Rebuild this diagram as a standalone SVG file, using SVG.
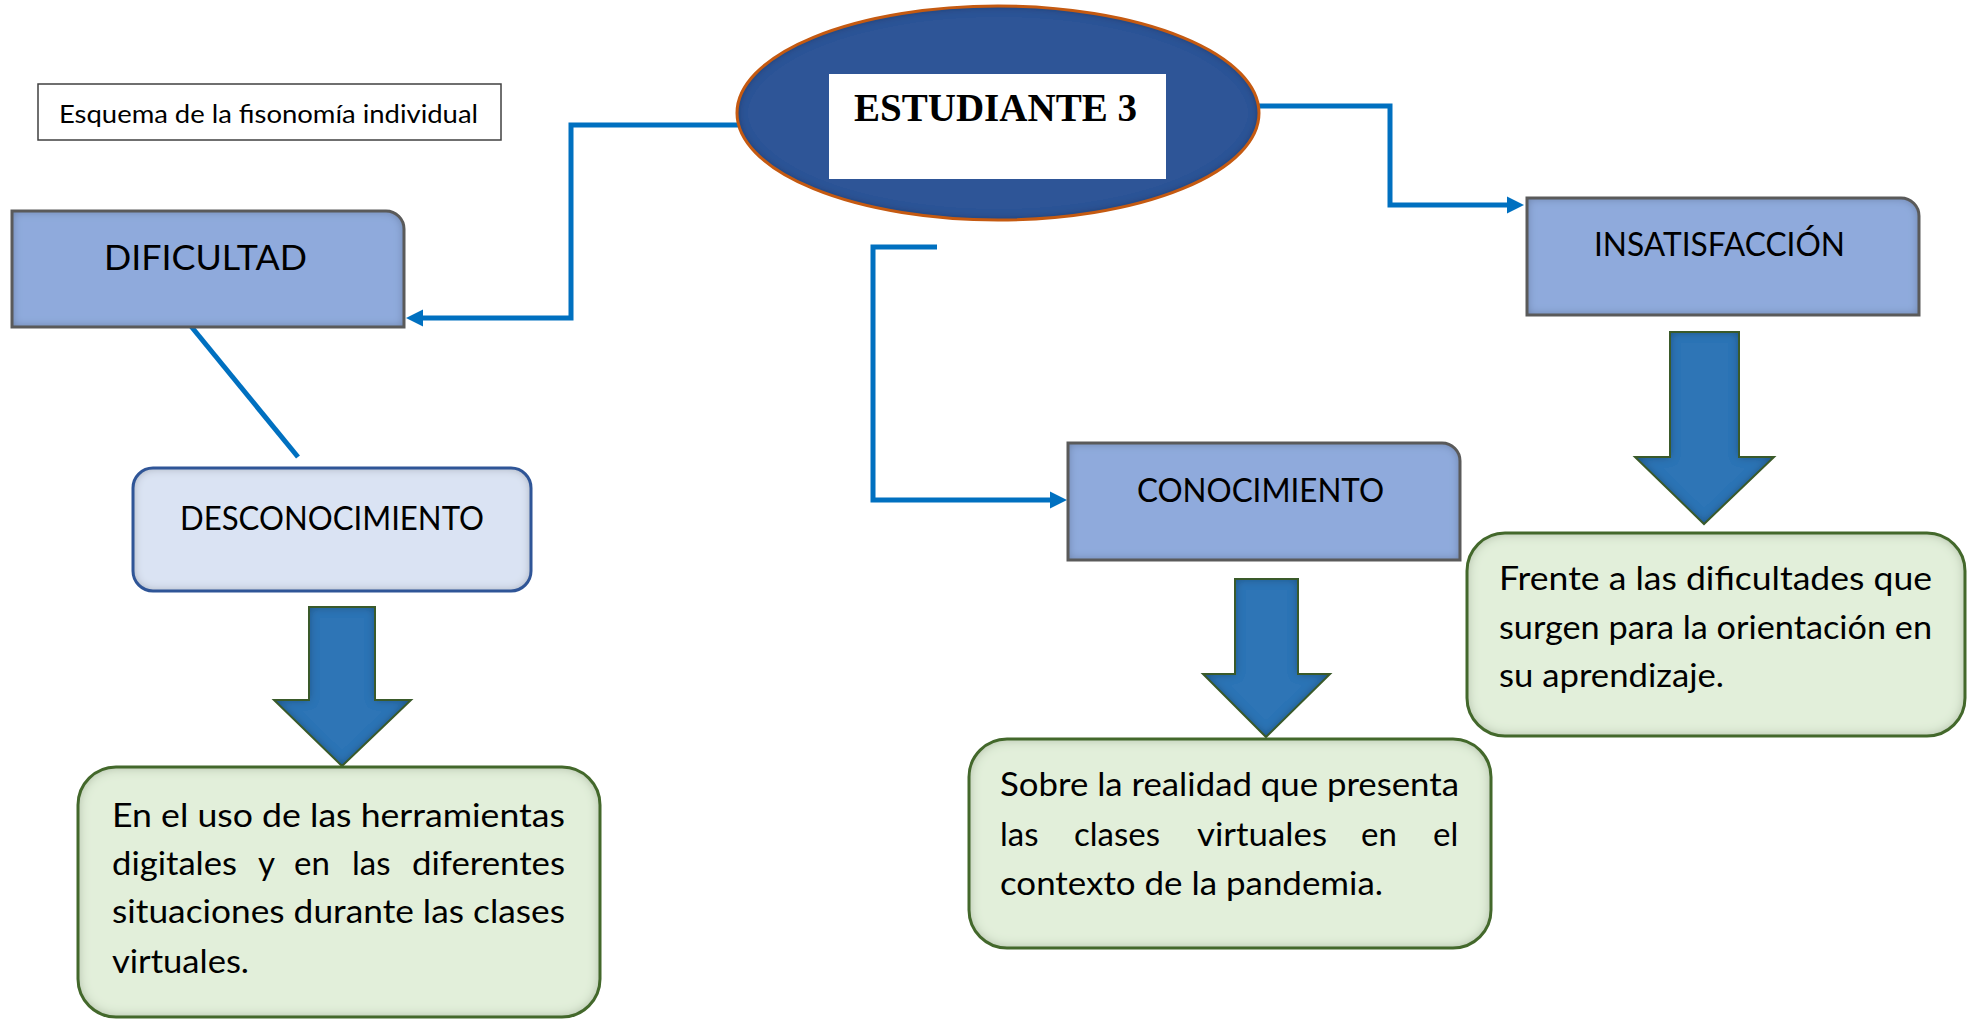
<svg xmlns="http://www.w3.org/2000/svg" width="1975" height="1020" viewBox="0 0 1975 1020">
<defs>
<style>
.t{font-family:Lato,"Open Sans","Liberation Sans",sans-serif;fill:#000}
.conn{fill:none;stroke:#0070C0;stroke-width:5;stroke-linejoin:miter}
.blue{fill:#8FAADC}
.blueS{fill:none;stroke:#5A5A5A;stroke-width:3}
.green{fill:#E2EFDA}
.greenS{fill:none;stroke:#43682B;stroke-width:3}
.barrow{fill:#2E75B6}
.barrowS{fill:none;stroke:#3A5A2A;stroke-width:2}
</style>
<filter id="inner" x="-5%" y="-5%" width="110%" height="110%">
<feFlood flood-color="#000" flood-opacity="0.6" result="f"/>
<feComposite in="f" in2="SourceAlpha" operator="out" result="o"/>
<feGaussianBlur in="o" stdDeviation="5" result="b"/>
<feComposite in="b" in2="SourceAlpha" operator="in" result="s"/>
<feMerge><feMergeNode in="SourceGraphic"/><feMergeNode in="s"/></feMerge>
</filter>
<filter id="innerG" x="-5%" y="-5%" width="110%" height="110%">
<feFlood flood-color="#3E5A22" flood-opacity="0.6" result="f"/>
<feComposite in="f" in2="SourceAlpha" operator="out" result="o"/>
<feGaussianBlur in="o" stdDeviation="6" result="b"/>
<feComposite in="b" in2="SourceAlpha" operator="in" result="s"/>
<feMerge><feMergeNode in="SourceGraphic"/><feMergeNode in="s"/></feMerge>
</filter>
<marker id="ah" markerUnits="userSpaceOnUse" markerWidth="18" markerHeight="18" refX="1" refY="9" orient="auto">
<path d="M0,0.5 L17,9 L0,17.5 Z" fill="#0070C0"/>
</marker>
</defs>
<rect width="1975" height="1020" fill="#fff"/>

<g id="connectors">
<polyline class="conn" points="738,125 571,125 571,318 422,318" marker-end="url(#ah)"/>
<polyline class="conn" points="1258,106 1390,106 1390,205 1508,205" marker-end="url(#ah)"/>
<polyline class="conn" points="937,247 873,247 873,500 1051,500" marker-end="url(#ah)"/>
<line class="conn" x1="190" y1="325" x2="298" y2="457"/>
</g>

<g id="title">
<rect x="38" y="84" width="463" height="56" fill="#fff" stroke="#404040" stroke-width="1.5"/>
<text class="t" x="59" y="123" font-size="25" textLength="419" lengthAdjust="spacingAndGlyphs">Esquema de la fisonomía individual</text>
</g>

<g id="estudiante">
<ellipse cx="998" cy="113" rx="261" ry="107" fill="#2F5597" filter="url(#inner)"/>
<ellipse cx="998" cy="113" rx="261" ry="107" fill="none" stroke="#C55A11" stroke-width="3"/>
<rect x="829" y="74" width="337" height="105" fill="#fff"/>
<text x="854" y="121" font-family="'Liberation Serif','DejaVu Serif',serif" font-weight="bold" font-size="40" textLength="283" lengthAdjust="spacingAndGlyphs">ESTUDIANTE 3</text>
</g>

<g id="dificultad">
<path class="blue" filter="url(#inner)" d="M12,211 H386 A18,18 0 0 1 404,229 V327 H12 Z"/>
<path class="blueS" d="M12,211 H386 A18,18 0 0 1 404,229 V327 H12 Z"/>
<text class="t" x="104" y="270" font-size="35" textLength="203" lengthAdjust="spacingAndGlyphs">DIFICULTAD</text>
</g>

<g id="insatisfaccion">
<path class="blue" filter="url(#inner)" d="M1527,198 H1901 A18,18 0 0 1 1919,216 V315 H1527 Z"/>
<path class="blueS" d="M1527,198 H1901 A18,18 0 0 1 1919,216 V315 H1527 Z"/>
<text class="t" x="1594" y="256" font-size="33" textLength="251" lengthAdjust="spacingAndGlyphs">INSATISFACCIÓN</text>
</g>

<g id="conocimiento">
<path class="blue" filter="url(#inner)" d="M1068,443 H1442 A18,18 0 0 1 1460,461 V560 H1068 Z"/>
<path class="blueS" d="M1068,443 H1442 A18,18 0 0 1 1460,461 V560 H1068 Z"/>
<text class="t" x="1137" y="502" font-size="32" textLength="247" lengthAdjust="spacingAndGlyphs">CONOCIMIENTO</text>
</g>

<g id="desconocimiento">
<rect x="133" y="468" width="398" height="123" rx="20" fill="#DAE3F3" filter="url(#inner)"/>
<rect x="133" y="468" width="398" height="123" rx="20" fill="none" stroke="#2F5597" stroke-width="3"/>
<text class="t" x="180" y="530" font-size="32" textLength="304" lengthAdjust="spacingAndGlyphs">DESCONOCIMIENTO</text>
</g>

<g id="arrow1">
<polygon class="barrow" filter="url(#inner)" points="309,607 375,607 375,700 411,700 342,766 274,700 309,700"/>
<polygon class="barrowS" points="309,607 375,607 375,700 411,700 342,766 274,700 309,700"/>
</g>
<g id="arrow2">
<polygon class="barrow" filter="url(#inner)" points="1235,579 1298,579 1298,674 1330,674 1266,737 1203,674 1235,674"/>
<polygon class="barrowS" points="1235,579 1298,579 1298,674 1330,674 1266,737 1203,674 1235,674"/>
</g>
<g id="arrow3">
<polygon class="barrow" filter="url(#inner)" points="1670,332 1739,332 1739,457 1774,457 1704,524 1635,457 1670,457"/>
<polygon class="barrowS" points="1670,332 1739,332 1739,457 1774,457 1704,524 1635,457 1670,457"/>
</g>

<g id="texto1">
<rect x="78" y="767" width="522" height="250" rx="38" class="green" filter="url(#innerG)"/>
<rect x="78" y="767" width="522" height="250" rx="38" class="greenS"/>
<text class="t" font-size="33">
<tspan x="112" y="827" textLength="453" lengthAdjust="spacingAndGlyphs">En el uso de las herramientas</tspan>
<tspan x="112" y="875" textLength="125" lengthAdjust="spacingAndGlyphs">digitales</tspan><tspan x="258" y="875">y</tspan><tspan x="294" y="875">en</tspan><tspan x="352" y="875">las</tspan><tspan x="412" y="875" textLength="153" lengthAdjust="spacingAndGlyphs">diferentes</tspan>
<tspan x="112" y="923" textLength="453" lengthAdjust="spacingAndGlyphs">situaciones durante las clases</tspan>
<tspan x="112" y="973" textLength="137" lengthAdjust="spacingAndGlyphs">virtuales.</tspan>
</text>
</g>

<g id="texto2">
<rect x="969" y="739" width="522" height="209" rx="38" class="green" filter="url(#innerG)"/>
<rect x="969" y="739" width="522" height="209" rx="38" class="greenS"/>
<text class="t" font-size="33">
<tspan x="1000" y="796" textLength="459" lengthAdjust="spacingAndGlyphs">Sobre la realidad que presenta</tspan>
<tspan x="1000" y="846">las</tspan><tspan x="1074" y="846">clases</tspan><tspan x="1197" y="846" textLength="130" lengthAdjust="spacingAndGlyphs">virtuales</tspan><tspan x="1361" y="846">en</tspan><tspan x="1433" y="846">el</tspan>
<tspan x="1000" y="895" textLength="383" lengthAdjust="spacingAndGlyphs">contexto de la pandemia.</tspan>
</text>
</g>

<g id="texto3">
<rect x="1467" y="533" width="498" height="203" rx="38" class="green" filter="url(#innerG)"/>
<rect x="1467" y="533" width="498" height="203" rx="38" class="greenS"/>
<text class="t" font-size="33">
<tspan x="1499" y="590" textLength="433" lengthAdjust="spacingAndGlyphs">Frente a las dificultades que</tspan>
<tspan x="1499" y="639" textLength="433" lengthAdjust="spacingAndGlyphs">surgen para la orientación en</tspan>
<tspan x="1499" y="687" textLength="225" lengthAdjust="spacingAndGlyphs">su aprendizaje.</tspan>
</text>
</g>
</svg>
